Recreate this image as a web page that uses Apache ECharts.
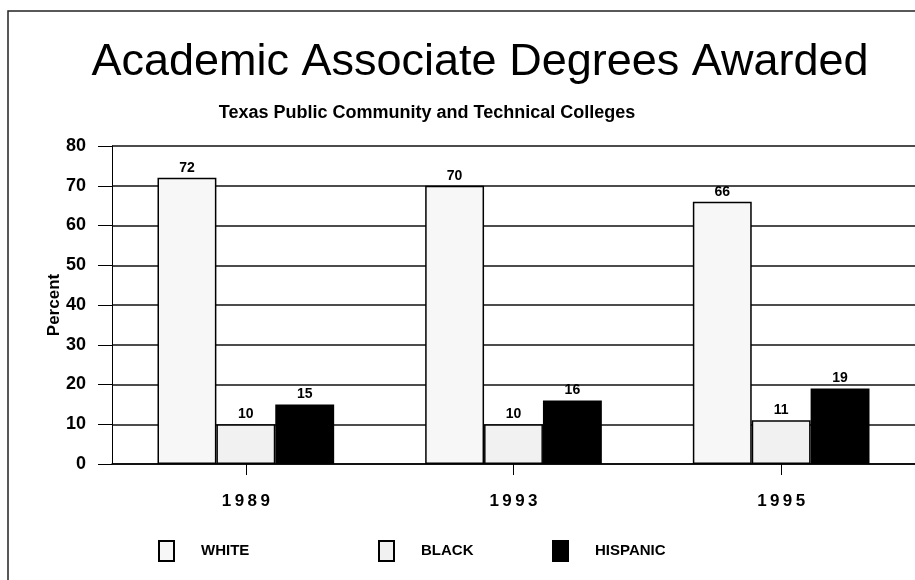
<!DOCTYPE html>
<html>
<head>
<meta charset="utf-8">
<script src="https://cdn.jsdelivr.net/npm/echarts@6/dist/echarts.min.js"></script>
<style>
  html, body { margin: 0; padding: 0; background: #fff; }
  #chart { width: 915px; height: 580px; }
</style>
</head>
<body>
<div id="chart"></div>
<script>
// Academic associate degrees awarded, percent by group
const years = ['1989', '1993', '1995'];
const white = [72, 70, 66];
const black = [10, 10, 11];
const hispanic = [15, 16, 19];
const yTicks = [0, 10, 20, 30, 40, 50, 60, 70, 80];

const FONT = '"Liberation Sans", Arial, sans-serif';

const chart = echarts.init(document.getElementById('chart'), null, { renderer: 'canvas' });

const labelStyle = {
  show: true,
  position: 'top',
  distance: 3,
  fontFamily: FONT,
  fontWeight: 'bold',
  fontSize: 14,
  color: '#000'
};

function legendFor(name, left) {
  return {
    data: [name],
    left: left,
    top: 540,
    padding: 0,
    orient: 'horizontal',
    itemWidth: 15,
    itemHeight: 20,
    itemGap: 0,
    textStyle: { fontFamily: FONT, fontWeight: 'bold', fontSize: 15, color: '#000', padding: [0, 0, 0, 22] },
    icon: 'rect'
  };
}

chart.setOption({
  backgroundColor: '#fff',
  animation: false,
  title: [
    {
      text: 'Academic Associate Degrees Awarded',
      left: 475, top: 35, textAlign: 'center',
      textStyle: { fontFamily: FONT, fontWeight: 'normal', fontSize: 45, color: '#000' }
    },
    {
      text: 'Texas Public Community and Technical Colleges',
      left: 422, top: 99, textAlign: 'center',
      textStyle: { fontFamily: FONT, fontWeight: 'bold', fontSize: 18, color: '#000' }
    }
  ],
  legend: [
    legendFor('WHITE', 158),
    legendFor('BLACK', 378),
    legendFor('HISPANIC', 552)
  ],
  grid: { left: 112, right: -13, top: 146, bottom: 116, containLabel: false },
  xAxis: {
    type: 'category',
    data: years,
    axisLine: { show: true, lineStyle: { color: '#000', width: 1.5 } },
    axisTick: { show: true, alignWithLabel: true, length: 11, lineStyle: { color: '#000', width: 1 } },
    axisLabel: {
      margin: 29,
      fontFamily: FONT, fontWeight: 'bold', fontSize: 17, color: '#000',
      formatter: v => v.split('').join('\u2009')
    }
  },
  yAxis: {
    type: 'value',
    min: 0, max: 80, interval: 10,
    name: 'Percent',
    nameLocation: 'middle',
    nameGap: 49,
    nameMoveOverlap: false,
    nameRotate: 90,
    nameTextStyle: { fontFamily: FONT, fontWeight: 'bold', fontSize: 17, color: '#000' },
    axisLine: { show: true, lineStyle: { color: '#000', width: 1 } },
    axisTick: { show: true, inside: false, length: 14, lineStyle: { color: '#000', width: 1 } },
    axisLabel: {
      margin: 26,
      fontFamily: FONT, fontWeight: 'bold', fontSize: 18, color: '#000',
      formatter: v => yTicks.includes(v) ? String(v) : ''
    },
    splitLine: { show: true, lineStyle: { color: '#111', width: 1.5 } }
  },
  series: [
    {
      name: 'WHITE', type: 'bar', data: white,
      barGap: '0%', barCategoryGap: '34%',
      itemStyle: { color: '#f7f7f7', borderColor: '#000', borderWidth: 1.5 },
      label: labelStyle
    },
    {
      name: 'BLACK', type: 'bar', data: black,
      itemStyle: { color: '#f1f1f1', borderColor: '#000', borderWidth: 1.5 },
      label: labelStyle
    },
    {
      name: 'HISPANIC', type: 'bar', data: hispanic,
      itemStyle: { color: '#000', borderColor: '#000', borderWidth: 1.5 },
      label: labelStyle
    }
  ],
  graphic: [
    {
      type: 'rect',
      shape: { x: 8, y: 11, width: 930, height: 600 },
      style: { fill: 'none', stroke: '#222', lineWidth: 1.5 },
      silent: true
    }
  ]
});
</script>
</body>
</html>
